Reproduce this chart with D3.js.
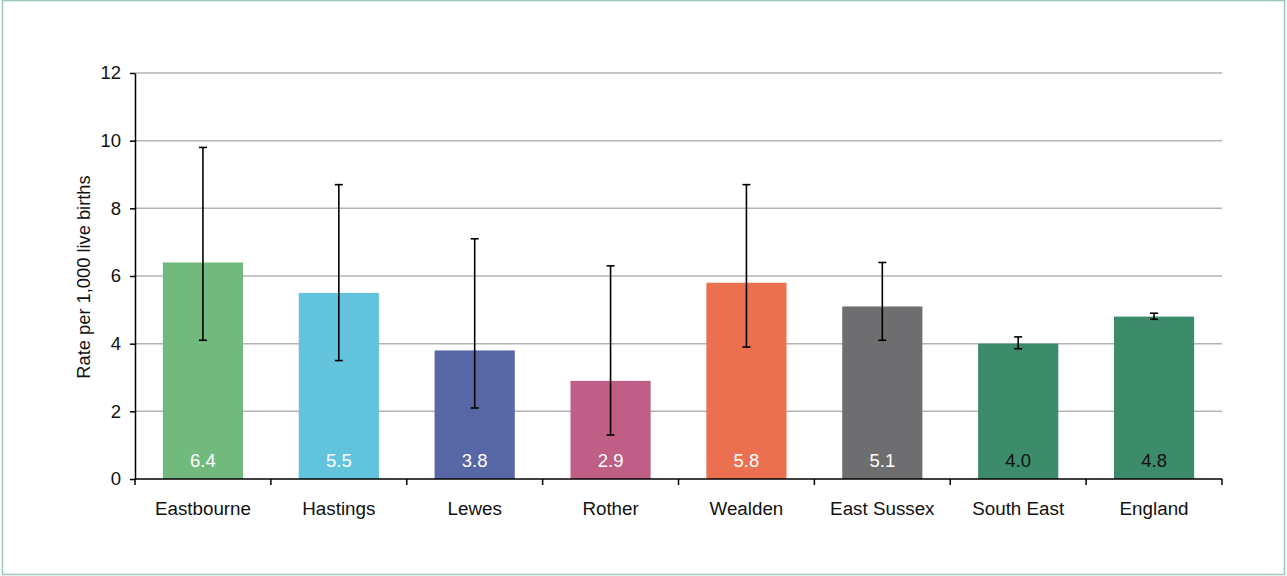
<!DOCTYPE html>
<html><head><meta charset="utf-8">
<script src="https://cdn.jsdelivr.net/npm/d3@7"></script>
<style>body{margin:0;background:#fff;}svg{display:block;font-family:"Liberation Sans",Arial,sans-serif;}</style>
</head><body>
<svg id="c" width="1287" height="576"></svg>
<script>
const categories = ["Eastbourne","Hastings","Lewes","Rother","Wealden","East Sussex","South East","England"];
const values = [6.4,5.5,3.8,2.9,5.8,5.1,4.0,4.8];
const lower = [4.1,3.5,2.1,1.3,3.9,4.1,3.85,4.72];
const upper = [9.8,8.7,7.1,6.3,8.7,6.4,4.2,4.9];
const colors = ["#72b97e","#62c3dc","#5766a5","#c05f86","#eb7050","#6e6e70","#3c8c6c","#3c8c6c"];
const labelColors = ["#fff","#fff","#fff","#fff","#fff","#fff","#111","#111"];
const yTicks = [0,2,4,6,8,10,12];

const svg = d3.select("#c");
svg.append("rect").attr("x",2.5).attr("y",0.5).attr("width",1282).attr("height",574)
  .attr("fill","#fff").attr("stroke","#9cc9b9").attr("stroke-width",1.5);

const L=135, R=1222, T=73, B=479;
const x = d3.scaleBand().domain(categories).range([L,R]).paddingInner(0.41).paddingOuter(0.205);
const y = d3.scaleLinear().domain([0,12]).range([B,T]);

// gridlines
svg.append("g").selectAll("line").data(yTicks.filter(d=>d>0)).join("line")
  .attr("x1",L).attr("x2",R).attr("y1",d=>y(d)).attr("y2",d=>y(d))
  .attr("stroke","#b3b3b3").attr("stroke-width",1.5);

// bars
svg.append("g").selectAll("rect").data(categories).join("rect")
  .attr("x",d=>x(d)).attr("width",x.bandwidth())
  .attr("y",(d,i)=>y(values[i])).attr("height",(d,i)=>B-y(values[i]))
  .attr("fill",(d,i)=>colors[i]);

// value labels
svg.append("g").selectAll("text").data(categories).join("text")
  .attr("x",d=>x(d)+x.bandwidth()/2).attr("y",467)
  .attr("text-anchor","middle").attr("font-size",18.5)
  .attr("fill",(d,i)=>labelColors[i]).text((d,i)=>values[i].toFixed(1));

// error bars
const eb = svg.append("g").attr("stroke","#000").attr("stroke-width",1.6);
categories.forEach((c,i)=>{
  const cx = x(c)+x.bandwidth()/2;
  eb.append("line").attr("x1",cx).attr("x2",cx).attr("y1",y(lower[i])).attr("y2",y(upper[i]));
  eb.append("line").attr("x1",cx-4).attr("x2",cx+4).attr("y1",y(lower[i])).attr("y2",y(lower[i]));
  eb.append("line").attr("x1",cx-4).attr("x2",cx+4).attr("y1",y(upper[i])).attr("y2",y(upper[i]));
});

// y axis
const ya = svg.append("g").attr("transform",`translate(${L},0)`)
  .call(d3.axisLeft(y).tickValues(yTicks).tickSize(5).tickPadding(9).tickSizeOuter(0));
ya.select(".domain").attr("stroke","#000").attr("stroke-width",1.5);
ya.selectAll(".tick line").attr("stroke","#000").attr("stroke-width",1.5);
ya.selectAll("text").attr("font-size",18.5).attr("fill","#111").attr("font-family","Liberation Sans, Arial, sans-serif");

// x axis
const xa = svg.append("g").attr("transform",`translate(0,${B})`);
xa.append("line").attr("x1",L).attr("x2",R).attr("stroke","#000").attr("stroke-width",1.5);
const bounds = d3.range(categories.length+1).map(i=>L+(R-L)*i/categories.length);
xa.selectAll(".tk").data(bounds).join("line").attr("class","tk")
  .attr("x1",d=>d).attr("x2",d=>d).attr("y1",0).attr("y2",6)
  .attr("stroke","#000").attr("stroke-width",1.5);
xa.selectAll(".lbl").data(categories).join("text").attr("class","lbl")
  .attr("x",d=>x(d)+x.bandwidth()/2).attr("y",36).attr("text-anchor","middle")
  .attr("font-size",18.8).attr("fill","#111").text(d=>d);

// y title
svg.append("text").attr("transform","translate(90,277) rotate(-90)")
  .attr("text-anchor","middle").attr("font-size",18.3).attr("fill","#111")
  .text("Rate per 1,000 live births");
</script>
</body></html>
